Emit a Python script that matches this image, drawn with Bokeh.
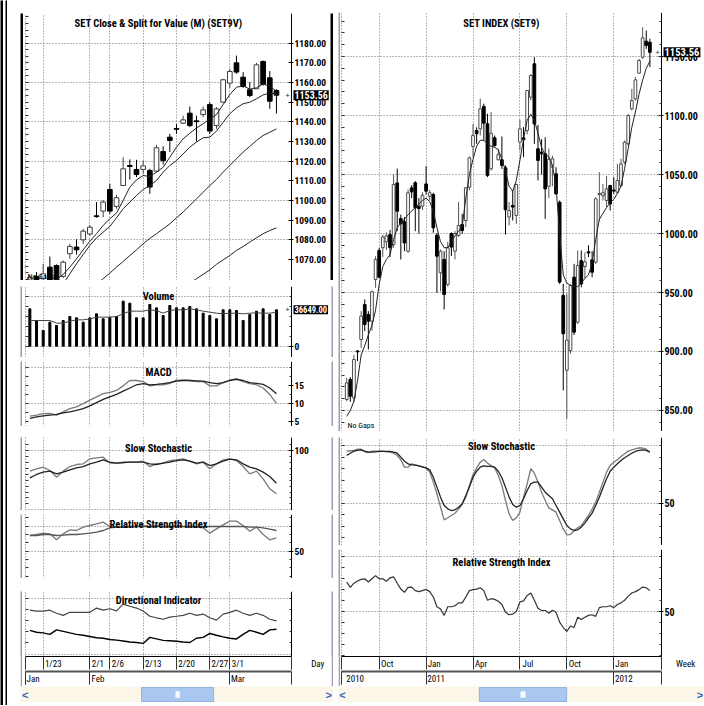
import numpy as np
from bokeh.plotting import figure
from bokeh.layouts import row, column
from bokeh.models import (Range1d, LinearAxis, FixedTicker, Grid, Label, BoxAnnotation,
                          PrintfTickFormatter, AllLabels)
from bokeh.embed import file_html
from bokeh.resources import INLINE

nan = float("nan")

# ---------------- daily data (left) ----------------
day_ticks = [2, 9, 12, 17, 22, 27, 30]
day_tick_labels = ["1/23", "2/1", "2/6", "2/13", "2/20", "2/27", "3/1"]
month_ticks = [9, 30]
month_labels = ["Jan", "Feb", "Mar"]

day_open = [1059.6, 1061.4, 1060.2, 1066.1, 1066.9, 1061.4, 1072.9, 1076.3, 1080.0, 1083.0,
            1092.2, 1094.6, 1105.6, 1097.0, 1107.6, 1117.8, 1115.8, 1115.8, 1115.3, 1114.9,
            1124.9, 1132.2, 1136.6, 1139.3, 1144.4, 1140.5, 1143.7, 1148.8, 1138.1, 1150.0,
            1159.7, 1170.0, 1162.7, 1156.3, 1156.8, 1170.7, 1162.4, 1155.9]
day_high = [1062.0, 1063.6, 1067.8, 1071.5, 1067.5, 1069.5, 1078.0, 1080.3, 1085.6, 1087.5,
            1099.2, 1100.3, 1108.5, 1102.9, 1122.0, 1120.9, 1120.7, 1120.3, 1116.1, 1128.3,
            1127.5, 1133.9, 1138.9, 1143.1, 1147.8, 1143.1, 1147.8, 1150.0, 1147.5, 1161.9,
            1167.0, 1173.7, 1165.3, 1160.2, 1170.0, 1171.2, 1165.8, 1156.6]
day_low = [1058.5, 1058.8, 1059.5, 1058.5, 1056.0, 1060.5, 1070.3, 1072.5, 1077.9, 1082.0,
           1091.2, 1091.5, 1093.2, 1095.8, 1107.6, 1110.7, 1111.9, 1113.6, 1103.4, 1114.4,
           1118.3, 1124.6, 1133.9, 1138.9, 1137.3, 1130.0, 1142.4, 1133.9, 1136.4, 1150.0,
           1157.3, 1164.4, 1157.3, 1152.5, 1156.8, 1158.5, 1146.6, 1144.2]
day_close = [1060.8, 1059.3, 1062.7, 1059.3, 1058.5, 1068.6, 1076.6, 1074.9, 1084.4, 1086.4,
             1091.8, 1099.2, 1094.6, 1101.4, 1116.1, 1117.3, 1113.2, 1117.6, 1106.8, 1126.8,
             1120.3, 1130.5, 1136.2, 1141.0, 1138.1, 1140.1, 1146.1, 1135.3, 1146.6, 1161.4,
             1165.6, 1165.3, 1158.0, 1153.4, 1169.0, 1159.0, 1150.5, 1153.56]
ma_fast = [nan, nan, nan, 1057.6, 1059.7, 1062.4, 1066.1, 1070.3, 1074.9, 1079.3,
           1083.1, 1087.3, 1090.7, 1093.6, 1100.0, 1106.8, 1110.5, 1112.7, 1112.2, 1114.4,
           1116.9, 1122.0, 1127.1, 1131.4, 1134.2, 1136.9, 1139.0, 1141.5, 1143.7, 1148.8,
           1153.9, 1157.6, 1158.3, 1156.6, 1157.3, 1159.3, 1158.0, 1155.6]
ma_mid = [nan, nan, nan, nan, nan, 1057.6, 1062.7, 1067.8, 1072.5, 1077.1,
          1081.0, 1083.9, 1086.8, 1091.2, 1095.8, 1099.2, 1102.5, 1105.6, 1107.6, 1110.2,
          1114.4, 1117.8, 1120.3, 1123.7, 1127.1, 1129.7, 1131.9, 1132.2, 1135.3, 1139.8,
          1144.1, 1147.1, 1149.2, 1150.0, 1151.7, 1153.7, 1154.6, 1154.2]
ma_slow = [nan, nan, nan, nan, nan, nan, nan, nan, nan, 1055.5,
           1057.6, 1060.2, 1063.1, 1066.1, 1069.0, 1072.0, 1074.9, 1078.0, 1080.7, 1083.1,
           1085.6, 1088.1, 1091.2, 1094.1, 1097.5, 1100.8, 1104.2, 1107.6, 1110.7, 1114.4,
           1117.8, 1121.2, 1124.6, 1127.5, 1130.5, 1133.1, 1134.7, 1136.4]
ma_long = [nan] * 24 + [1058.0, 1060.2, 1062.4, 1064.7, 1067.5, 1069.8, 1072.0, 1074.6,
                        1076.6, 1078.8, 1081.0, 1083.1, 1084.7, 1086.1]
volume = [37650, 25890, 15800, 24210, 20840, 25890, 29920, 28580, 24210, 28580,
          32610, 27570, 29250, 29920, 45390, 43370, 28580, 28580, 42020, 38660,
          30930, 41020, 38660, 38660, 40010, 37650, 33280, 30930, 27570, 36650,
          36650, 35970, 25890, 31940, 35300, 37650, 31940, 36649]
volume_avg = [25890, 25890, 25890, 25890, 23200, 23200, 25220, 26560, 26560, 27570,
              29250, 29250, 29250, 29920, 32610, 35300, 35300, 35300, 36650, 35970,
              33280, 35970, 36650, 36650, 37650, 36650, 35300, 34290, 33280, 32610,
              33280, 33280, 32610, 33280, 33620, 33280, 33280, 34290]
macd_line = [6.4, 6.7, 7.1, 7.2, 6.7, 7.6, 8.5, 9.0, 9.9, 10.9, 11.8, 12.7, 13.1, 13.6, 14.9,
             16.4, 16.4, 16.1, 14.9, 15.2, 15.2, 15.6, 16.5, 16.5, 16.4, 16.1, 16.1, 14.9,
             14.9, 15.8, 16.5, 16.9, 16.1, 15.5, 15.2, 14.3, 12.5, 10.0]
macd_signal = [5.8, 6.2, 6.5, 6.7, 6.9, 7.3, 7.6, 8.0, 8.5, 9.3, 10.2, 11.1, 11.8, 12.5, 13.4,
               14.3, 15.2, 15.5, 15.2, 15.3, 15.5, 15.8, 16.2, 16.4, 16.4, 16.3, 16.2, 15.8,
               15.5, 15.8, 16.4, 16.7, 16.4, 15.8, 15.6, 15.3, 14.3, 12.7]
stoch_k_day = [65.2, 69.1, 71.9, 66.3, 55.1, 65.2, 73.0, 76.4, 77.5, 86.0, 87.6, 88.8, 78.7,
               78.7, 79.8, 80.3, 80.3, 82.0, 73.0, 77.5, 78.7, 83.1, 84.3, 86.0, 82.0, 77.5,
               80.3, 69.1, 77.5, 84.3, 86.0, 83.1, 73.0, 60.7, 65.2, 52.2, 35.4, 27.0]
stoch_d_day = [53.9, 59.6, 63.5, 65.2, 60.7, 63.5, 67.4, 70.8, 73.0, 77.5, 80.3, 84.3, 80.3,
               78.7, 79.8, 80.3, 80.3, 80.3, 77.5, 76.4, 78.7, 80.3, 83.1, 84.3, 82.0, 78.7,
               80.3, 74.7, 77.5, 82.0, 85.4, 84.3, 77.5, 71.9, 69.1, 63.5, 56.2, 44.9]
rsi_day = [68.8, 70.0, 71.6, 70.8, 63.6, 70.8, 75.6, 74.8, 78.8, 80.8, 82.8, 84.8, 79.6, 78.8,
           78.8, 79.6, 79.6, 80.8, 78.8, 80.8, 79.6, 78.8, 80.8, 79.6, 78.8, 78.8, 78.0, 71.6,
           76.8, 81.6, 86.0, 86.0, 80.8, 74.0, 78.8, 70.0, 63.6, 66.0]
rsi_day_avg = [68.8, 68.8, 70.0, 70.0, 68.8, 69.2, 70.0, 70.0, 70.8, 71.6, 72.8, 74.8, 78.0,
               78.8, 78.8, 79.2, 79.6, 79.6, 79.6, 79.6, 79.6, 79.6, 79.6, 79.6, 79.6, 79.6,
               79.6, 79.6, 79.6, 79.6, 79.6, 79.6, 79.6, 78.8, 78.8, 78.0, 76.4, 74.8]
di_plus = [39.2, 38.4, 38.4, 39.2, 36.5, 34.6, 37.3, 37.3, 37.3, 37.3, 41.1, 39.2, 40.5, 38.6,
           44.6, 42.7, 41.1, 38.4, 33.8, 32.4, 31.1, 33.0, 33.8, 34.6, 36.5, 34.6, 35.7, 32.4,
           30.3, 35.7, 37.3, 39.2, 36.5, 34.6, 36.5, 34.6, 31.1, 29.7]
di_minus = [21.1, 19.5, 18.9, 17.6, 21.6, 20.3, 18.9, 17.6, 16.8, 15.7, 14.6, 14.1, 13.0, 12.4,
            11.6, 10.8, 10.3, 9.5, 14.9, 13.5, 12.2, 11.9, 11.4, 10.8, 10.3, 14.1, 14.9, 18.4,
            16.8, 15.4, 14.1, 13.5, 17.6, 21.1, 19.5, 17.6, 21.6, 22.2]

# ---------------- weekly data (right) ----------------
quarter_ticks = [9, 22, 35, 48, 61, 74]
quarter_labels = ["Oct", "Jan", "Apr", "Jul", "Oct", "Jan"]
year_ticks = [22, 74]
year_labels = ["2010", "2011", "2012"]

wk_open = [859.3, 876.3, 860.7, 900.5, 910.2, 939.8, 931.4, 925.7, 961.0, 985.6,
           988.0, 993.0, 999.0, 990.7, 1042.9, 1012.7, 1010.0, 985.0, 1038.7, 1043.0,
           1023.0, 1023.2, 1042.0, 1031.6, 1033.0, 998.6, 966.7, 978.0, 956.8, 1000.0,
           985.0, 998.4, 1007.7, 1011.0, 1039.3, 1073.8, 1087.3, 1088.7, 1107.7, 1093.0,
           1054.8, 1081.1, 1062.5, 1062.5, 1055.7, 1013.9, 1023.8, 1015.3, 1077.4, 1081.1,
           1087.3, 1115.5, 1143.8, 1071.8, 1069.0, 1067.5, 1040.0, 1056.2, 1050.6, 1026.5,
           947.5, 884.2, 900.8, 963.0, 924.8, 977.0, 972.0, 984.5, 977.7, 975.7,
           1033.0, 1032.0, 1028.0, 1040.7, 1036.8, 1035.0, 1040.7, 1060.4, 1076.0, 1105.6,
           1114.1, 1135.9, 1149.4, 1163.0, 1162.1]
wk_high = [877.7, 878.2, 896.9, 901.0, 934.2, 944.1, 934.2, 951.7, 980.8, 987.9,
           999.0, 1001.0, 1003.0, 1050.0, 1055.0, 1016.0, 1014.0, 1037.3, 1041.0, 1044.4,
           1030.0, 1035.0, 1057.0, 1037.0, 1034.5, 1000.6, 986.4, 985.0, 993.0, 1001.0,
           1002.0, 1026.6, 1016.7, 1039.3, 1065.3, 1093.0, 1090.0, 1114.2, 1110.0, 1101.5,
           1102.9, 1083.0, 1071.8, 1082.2, 1057.7, 1026.6, 1036.5, 1042.1, 1096.4, 1090.2,
           1121.2, 1135.0, 1149.4, 1092.0, 1080.0, 1081.6, 1072.0, 1066.0, 1056.2, 1028.0,
           957.3, 948.9, 957.3, 974.3, 985.6, 985.6, 984.0, 990.0, 985.0, 1030.8,
           1052.0, 1042.1, 1048.8, 1041.2, 1047.7, 1059.0, 1063.3, 1078.8, 1101.4, 1122.6,
           1132.5, 1148.0, 1174.9, 1172.0, 1165.0]
wk_low = [857.9, 857.3, 857.0, 892.0, 903.0, 917.2, 901.7, 917.8, 954.0, 962.4,
          980.0, 986.0, 980.0, 987.9, 1002.0, 978.0, 985.0, 983.6, 1030.0, 1002.0,
          1000.0, 1020.0, 1033.0, 1028.0, 1000.6, 949.7, 951.0, 935.6, 955.0, 981.0,
          978.0, 997.0, 999.8, 1005.4, 1036.5, 1064.7, 1076.0, 1083.1, 1078.9, 1047.8,
          1053.4, 1073.0, 1061.9, 1054.8, 999.2, 1006.8, 1011.0, 1008.2, 1070.4, 1064.7,
          1084.0, 1113.0, 1076.0, 1045.0, 1050.0, 1012.4, 1030.0, 1040.0, 1032.7, 957.4,
          867.0, 843.0, 898.0, 914.0, 923.4, 954.5, 962.0, 980.0, 963.0, 974.3,
          1011.0, 1028.0, 1022.3, 1019.5, 1033.7, 1033.6, 1039.3, 1059.0, 1074.6, 1104.2,
          1112.7, 1135.3, 1148.0, 1156.5, 1141.0]
wk_close = [873.4, 862.1, 893.2, 899.7, 930.0, 922.9, 925.7, 950.6, 978.0, 963.0,
            997.0, 998.0, 988.0, 1041.5, 1018.9, 1008.2, 992.0, 1034.5, 1035.3, 1021.8,
            1021.2, 1032.5, 1035.9, 1034.5, 1004.8, 980.8, 985.0, 948.3, 987.9, 988.5,
            1000.0, 1006.8, 1002.6, 1038.7, 1064.2, 1083.1, 1084.5, 1105.7, 1093.5, 1049.2,
            1085.0, 1074.6, 1067.0, 1057.7, 1020.1, 1019.5, 1022.4, 1041.6, 1088.7, 1079.4,
            1121.2, 1133.9, 1092.9, 1061.9, 1067.5, 1037.8, 1063.0, 1063.3, 1033.6, 958.8,
            915.0, 909.6, 955.9, 916.4, 972.9, 957.3, 976.0, 983.5, 967.2, 1029.4,
            1034.0, 1034.5, 1037.8, 1025.0, 1036.0, 1045.0, 1059.0, 1077.4, 1100.0, 1112.7,
            1130.2, 1146.6, 1165.8, 1159.3, 1153.56]
wk_ma = [845, 850, 858, 875, 897, 905, 914, 922, 935, 957, 972, 978, 982, 995, 1005, 1009,
         1012, 1016, 1019, 1022, 1025, 1028, 1030, 1027, 1019, 1005, 993, 988, 988, 993,
         998, 1002, 1006, 1030, 1050, 1063, 1074, 1079, 1079, 1076, 1074, 1073, 1071, 1063,
         1053, 1040, 1036, 1045, 1062, 1080, 1096, 1101, 1096, 1085, 1073, 1067, 1065, 1058,
         1040, 1000, 965, 958, 956, 955, 955, 958, 962, 965, 975, 995, 1012, 1017, 1022,
         1026, 1029, 1034, 1040, 1055, 1072, 1090, 1103, 1118, 1130, 1140, 1146]
stoch_k_wk = [95.1, 95.4, 95.7, 96.8, 96.8, 94.5, 93.9, 95.1, 95.1, 95.1, 95.1, 94.5, 94.2,
              93.3, 91.3, 87.6, 81.2, 81.2, 84.1, 83.2, 82.4, 81.2, 80.3, 76.9, 68.2, 58.1,
              46.5, 35.5, 37.3, 39.3, 41.3, 44.8, 48.8, 55.2, 65.3, 74.8, 80.6, 85.5, 87.9,
              84.7, 82.7, 80.6, 74.0, 65.3, 52.3, 40.7, 35.0, 37.3, 42.2, 55.2, 66.8, 79.8,
              76.0, 68.2, 59.5, 52.3, 45.9, 44.2, 42.2, 35.0, 27.7, 22.8, 22.8, 26.3, 28.6,
              30.6, 35.0, 39.3, 44.8, 50.9, 59.5, 68.2, 76.9, 82.7, 85.5, 87.6, 90.5, 92.8,
              95.1, 96.2, 97.1, 98.0, 97.7, 96.8, 94.2]
stoch_d_wk = [91.3, 93.3, 95.1, 95.7, 96.2, 95.1, 94.2, 94.2, 94.5, 94.8, 94.8, 94.8, 94.8,
              94.2, 93.3, 89.9, 86.4, 84.1, 83.2, 82.9, 82.4, 81.5, 80.6, 78.9, 72.5, 63.9,
              55.2, 48.0, 45.1, 43.6, 44.2, 46.5, 49.4, 56.6, 63.9, 72.5, 77.7, 81.2, 82.4,
              81.8, 81.8, 81.2, 77.7, 72.0, 63.9, 55.2, 48.8, 46.5, 48.0, 53.8, 61.0, 66.8,
              68.2, 68.2, 63.9, 59.5, 56.6, 53.8, 48.0, 42.2, 36.4, 30.6, 27.7, 26.3, 26.9,
              29.2, 32.7, 37.3, 41.3, 48.0, 55.2, 63.3, 71.1, 77.7, 81.2, 84.1, 87.0, 89.3,
              91.3, 93.3, 94.8, 95.7, 96.2, 95.7, 94.2]
rsi_wk = [76.7, 71.8, 75.6, 77.6, 79.1, 79.6, 76.7, 79.6, 82.5, 79.6, 79.6, 77.3, 80.5, 81.4,
          75.6, 70.3, 67.4, 71.8, 72.1, 68.9, 68.0, 68.9, 70.0, 68.0, 63.1, 54.3, 52.3, 46.5,
          54.3, 54.3, 55.2, 57.8, 57.8, 63.1, 68.9, 69.8, 70.3, 71.5, 68.9, 60.2, 61.6, 61.0,
          59.3, 56.4, 49.4, 47.1, 47.7, 50.0, 58.7, 59.6, 64.5, 66.8, 60.2, 52.9, 50.9, 50.9,
          48.5, 51.2, 49.4, 40.4, 35.5, 32.0, 36.9, 35.5, 44.8, 42.7, 44.8, 46.5, 47.1, 45.6,
          53.5, 54.3, 54.3, 55.2, 53.5, 56.4, 57.8, 60.2, 63.9, 66.8, 68.0, 69.8, 72.1, 71.5,
          68.9]

last_price = 1153.56
last_volume = 36649.00

# ---------------- styling helpers ----------------
FONT = "Roboto Condensed, Liberation Sans, sans-serif"
GRAY = "#a597ad"
GRIDC = "#707070"
EN = "\u2002"     # en space (0.5em), used to shift centred tick labels to the right
THIN = "\u2009"


def pad(text, shift_px, size_px=9.0):
    """left-pad a centred tick label so that it starts shift_px right of its tick"""
    w = 0.5 * size_px * len(text)
    n = max(0, int(round((2 * shift_px + w) / (0.5 * size_px))))
    return EN * n + text


def strip(w, h, color):
    f = figure(width=w, height=h, output_backend="svg", toolbar_location=None,
               x_range=Range1d(0, 1), y_range=Range1d(0, 1),
               x_axis_location=None, y_axis_location=None, min_border=0,
               background_fill_color=color, border_fill_color=color, outline_line_color=None)
    f.grid.visible = False
    return f


def panel(w, h, xr, yr, mbl, mbb=0):
    p = figure(width=w, height=h, x_range=xr, y_range=yr, output_backend="svg",
               toolbar_location=None, x_axis_location=None, y_axis_location=None,
               min_border_left=mbl, min_border_right=0, min_border_top=0,
               min_border_bottom=mbb, background_fill_color="white",
               border_fill_color="white", outline_line_color=None)
    p.grid.visible = False
    return p


def grids(p, xt, yt, xb):
    p.add_layout(Grid(dimension=0, ticker=FixedTicker(ticks=xt), grid_line_color=GRIDC,
                      grid_line_dash="1 2", grid_line_width=1))
    kw = dict(dimension=1, ticker=FixedTicker(ticks=yt), grid_line_color=GRIDC,
              grid_line_dash="1 2", grid_line_width=1)
    try:
        g = Grid(cross_bounds=xb, **kw)
        p.add_layout(g)
    except Exception:
        yt = np.asarray(yt, float)
        p.segment(x0=np.full(len(yt), xb[0]), x1=np.full(len(yt), xb[1]), y0=yt, y1=yt,
                  line_color=GRIDC, line_dash="1 2", line_width=1)


def raxis(p, xpos, ticks, minor, fmt=None, size="9.5px"):
    ax = LinearAxis(ticker=FixedTicker(ticks=ticks, minor_ticks=minor), fixed_location=xpos)
    ax.axis_line_color = "black"
    ax.major_tick_in = 3
    ax.major_tick_out = 2
    ax.minor_tick_in = 2
    ax.minor_tick_out = 0
    ax.major_tick_line_color = "black"
    ax.minor_tick_line_color = "#333333"
    ax.major_label_standoff = 1
    ax.major_label_text_font = FONT
    ax.major_label_text_font_style = "bold"
    ax.major_label_text_font_size = size
    ax.major_label_text_color = "black"
    if fmt:
        ax.formatter = PrintfTickFormatter(format=fmt)
    p.add_layout(ax, "right")


def laxis(p, marks):
    ax = LinearAxis(ticker=FixedTicker(ticks=[], minor_ticks=marks))
    ax.axis_line_color = "#666666"
    ax.axis_line_dash = "1 2"
    ax.major_tick_in = 0
    ax.major_tick_out = 0
    ax.minor_tick_in = 3
    ax.minor_tick_out = 0
    ax.minor_tick_line_color = "#333333"
    ax.major_label_standoff = 0
    p.add_layout(ax, "left")


def ypx(yr, fh, px):
    return yr.end - px / fh * (yr.end - yr.start)


def title(p, text, xc, yr, fh, px):
    p.add_layout(Label(x=xc, y=ypx(yr, fh, px), text=text,
                       text_align="center", text_baseline="middle", text_font=FONT,
                       text_font_style="bold", text_font_size="10.5px", text_color="black"))


def value_box(p, xpos, y, text, size):
    p.add_layout(Label(x=xpos, y=y, x_offset=-4, text="+", text_align="center",
                       text_baseline="middle", text_font_size="8px", text_color="#333333"))
    p.add_layout(Label(x=xpos, y=y, x_offset=2, text=text, text_align="left",
                       text_baseline="middle", text_font=FONT, text_font_style="bold",
                       text_font_size=size, text_color="white",
                       background_fill_color="black", padding=1))


def date_axes(p, bounds, edges, t1, l1, t2, l2):
    for ticks, labels, lw, lc in ((t1, l1, 1, "black"), (t2, l2, 2, "#555555")):
        ax = LinearAxis(ticker=FixedTicker(ticks=ticks, minor_ticks=edges),
                        major_label_overrides={t: s for t, s in zip(ticks, labels)},
                        bounds=bounds, major_label_policy=AllLabels())
        ax.axis_line_color = lc
        ax.axis_line_width = lw
        ax.major_tick_out = 13
        ax.major_tick_in = 0
        ax.minor_tick_out = 13
        ax.minor_tick_in = 0
        ax.major_tick_line_color = "#333333"
        ax.minor_tick_line_color = "#333333"
        ax.major_label_standoff = -11
        ax.major_label_text_font = FONT
        ax.major_label_text_font_size = "9px"
        ax.major_label_text_color = "black"
        p.add_layout(ax, "below")


def candles(p, o, h, l, c, width, up_line, wick_up):
    o, h, l, c = (np.asarray(v, float) for v in (o, h, l, c))
    x = np.arange(len(o), dtype=float)
    up = c >= o
    dn = ~up
    top = np.maximum(o, c)
    bot = np.minimum(o, c)
    p.segment(x0=x[up], y0=l[up], x1=x[up], y1=h[up], line_color=wick_up, line_width=1)
    p.segment(x0=x[dn], y0=l[dn], x1=x[dn], y1=h[dn], line_color="black", line_width=1)
    p.vbar(x=x[up], width=width, top=top[up], bottom=bot[up], fill_color="white",
           line_color=up_line, line_width=1)
    p.vbar(x=x[dn], width=width, top=top[dn], bottom=bot[dn], fill_color="black",
           line_color="black", line_width=1)


def scrollbar(w, t0, t1, arrows):
    f = figure(width=w, height=16, x_range=Range1d(0, 1), y_range=Range1d(0, 1),
               output_backend="svg", toolbar_location=None, x_axis_location=None,
               y_axis_location=None, min_border=0, background_fill_color="#fbf6e8",
               border_fill_color="#fbf6e8", outline_line_color=None)
    f.grid.visible = False
    f.add_layout(BoxAnnotation(left=t0, right=t1, bottom=0.06, top=0.94, fill_color="#a9c8ef",
                               fill_alpha=1.0, line_color="#8fb2df", line_alpha=1.0))
    cc = (t0 + t1) / 2
    f.add_layout(BoxAnnotation(left=cc - 0.007, right=cc + 0.007, bottom=0.3, top=0.7,
                               fill_color="white", fill_alpha=0.9, line_color=None))
    for xa, t in arrows:
        f.add_layout(Label(x=xa, y=0.5, text=t, text_align="center", text_baseline="middle",
                           text_color="#2f63c0", text_font_size="11px", text_font_style="bold"))
    return f


# ---------------- ranges ----------------
# left: 6.664 px per trading day, day 0 at x=29.4; axis line at x=291
xL_ax = 39.26
xL = Range1d(-0.656, 45.26)      # frames 25..331
xLp = Range1d(-0.656, 45.11)     # price frame 25..330
# right: 3.609 px per week, week 0 at x=346.2; axis line at x=661
xR_ax = 87.23
xR = Range1d(-1.44, 98.86)       # frames 341..703
xL0 = xL.start + 0.02
xR0 = xR.start + 0.02
cL = (xL.start + xL_ax) / 2
cR = (xR.start + xR_ax) / 2
bL = (xL.start, xL_ax + 0.001)
bR = (xR.start, xR_ax + 0.001)
ix = np.arange(len(day_open), dtype=float)
iw = np.arange(len(wk_open), dtype=float)
LINE_D = "#222222"
LINE_G = "#7a7a7a"

# ---- left price ----
yL = Range1d(1059.3, 1195.1)
pL = panel(307, 267, xLp, yL, 2)
grids(pL, day_ticks, [1080, 1100, 1120, 1140, 1160, 1180], bL)
raxis(pL, xL_ax, list(range(1070, 1190, 10)), [], fmt="%.2f")
laxis(pL, [1060 + k * 10 / 3 for k in range(42)])
candles(pL, day_open, day_high, day_low, day_close, 0.7, "#3c3c3c", "#444444")
for ma in (ma_fast, ma_mid, ma_slow, ma_long):
    pL.line(ix, np.array(ma, float), line_color=LINE_D, line_width=1)
title(pL, "SET Close & Split for Value (M) (SET9V)", cL, yL, 267, 10.3)
pL.add_layout(Label(x=xLp.start, x_offset=2, y=ypx(yL, 267, 263), text="No Gaps",
                    text_align="left", text_baseline="middle", text_font=FONT,
                    text_font_size="8px", text_color="black"))
value_box(pL, xL_ax, last_price, "1153.56", "10px")

# ---- volume ----
yV = Range1d(-11431, 60180)
pV = panel(309, 71, xL, yV, 3)
grids(pV, day_ticks, [0, 50000], bL)
raxis(pV, xL_ax, [0], [10000, 20000, 30000, 40000, 50000])
laxis(pV, [0, 10000, 20000, 30000, 40000, 50000])
pV.vbar(x=ix, width=0.3, top=np.array(volume, float), bottom=0, fill_color="black",
        line_color="black")
pV.line(ix, np.array(volume_avg, float), line_color="#444444", line_width=1)
title(pV, "Volume", cL, yV, 71, 10)
value_box(pV, xL_ax, last_volume, "36649.00", "8.5px")

# ---- MACD ----
yM = Range1d(3.5, 21.73)
pM = panel(309, 65, xL, yM, 3)
grids(pM, day_ticks, [10, 20], bL)
raxis(pM, xL_ax, [5, 10, 15], [7.5, 12.5, 17.5, 20])
laxis(pM, [5, 7.5, 10, 12.5, 15, 17.5, 20])
pM.line(ix, macd_line, line_color=LINE_G, line_width=1.3)
pM.line(ix, macd_signal, line_color=LINE_D, line_width=1.3)
title(pM, "MACD", cL, yM, 65, 10.7)

# ---- slow stochastic (day) ----
yS = Range1d(-1.1, 121.9)
pS = panel(309, 73, xL, yS, 3)
grids(pS, day_ticks, [0, 100], bL)
raxis(pS, xL_ax, [100], [10, 20, 30, 40, 50, 60, 70, 80, 90, 110])
laxis(pS, [10, 20, 30, 40, 50, 60, 70, 80, 90, 100, 110])
pS.line(ix, stoch_k_day, line_color=LINE_G, line_width=1.3)
pS.line(ix, stoch_d_day, line_color=LINE_D, line_width=1.3)
title(pS, "Slow Stochastic", cL, yS, 73, 11)

# ---- RSI (day) ----
yRd = Range1d(17.2, 94.0)
pR = panel(309, 64, xL, yRd, 3)
grids(pR, day_ticks, [50, 80], bL)
raxis(pR, xL_ax, [50], [20, 30, 40, 60, 70, 80, 90])
laxis(pR, [20, 30, 40, 50, 60, 70, 80, 90])
pR.line(ix, rsi_day, line_color=LINE_G, line_width=1.3)
pR.line(ix, rsi_day_avg, line_color="#555555", line_width=1.3)
title(pR, "Relative Strength Index", cL, yRd, 64, 10)

# ---- directional indicator ----
yD = Range1d(-2.2, 55.9)
pD = panel(309, 95, xL, yD, 3, mbb=26)
grids(pD, day_ticks, [0, 50], bL)
raxis(pD, xL_ax, [], [10, 20, 30, 40, 50])
laxis(pD, [10, 20, 30, 40, 50])
pD.line(ix, di_plus, line_color="#444444", line_width=1.2)
pD.line(ix, di_minus, line_color="black", line_width=1.4)
title(pD, "Directional Indicator", cL, yD, 69, 9.7)
date_axes(pD, bL, [xL0, xL_ax],
          day_ticks + [xL_ax], [pad(s, 2) for s in day_tick_labels] + [pad("Day", 22)],
          [xL0] + month_ticks, [EN + month_labels[0]] + [pad(s, 2) for s in month_labels[1:]])

# ---- right price ----
yP = Range1d(832.2, 1187.3)
pP = panel(363, 419, xR, yP, 1)
grids(pP, quarter_ticks, [850, 900, 950, 1000, 1050, 1100, 1150], bR)
raxis(pP, xR_ax, [850, 900, 950, 1000, 1050, 1100, 1150], list(range(840, 1190, 10)),
      fmt="%.2f", size="10px")
laxis(pP, list(range(840, 1190, 10)))
candles(pP, wk_open, wk_high, wk_low, wk_close, 0.75, "#4a4a4a", "#555555")
pP.line(iw, np.array(wk_ma, float), line_color=LINE_D, line_width=1)
title(pP, "SET INDEX (SET9)", cR, yP, 419, 10.7)
pP.add_layout(Label(x=xR.start, x_offset=6, y=ypx(yP, 419, 413), text="No Gaps",
                    text_align="left", text_baseline="middle", text_font=FONT,
                    text_font_size="8px", text_color="black"))
value_box(pP, xR_ax, last_price, "1153.56", "10.5px")

# ---- right slow stochastic ----
ySw = Range1d(13.3, 106.9)
pSw = panel(363, 108, xR, ySw, 1)
grids(pSw, quarter_ticks, [50, 100], bR)
raxis(pSw, xR_ax, [50], [20, 30, 40, 60, 70, 80, 90, 100], size="10px")
laxis(pSw, [20, 30, 40, 50, 60, 70, 80, 90, 100])
pSw.line(iw, stoch_k_wk, line_color=LINE_G, line_width=1.3)
pSw.line(iw, stoch_d_wk, line_color=LINE_D, line_width=1.3)
title(pSw, "Slow Stochastic", cR, ySw, 108, 9)

# ---- right RSI ----
yRw = Range1d(9.3, 106.1)
pRw = panel(363, 137, xR, yRw, 1, mbb=26)
grids(pRw, quarter_ticks, [50, 100], bR)
raxis(pRw, xR_ax, [50], [10, 20, 30, 40, 60, 70, 80, 90, 100], size="10px")
laxis(pRw, [10, 20, 30, 40, 50, 60, 70, 80, 90, 100])
pRw.line(iw, rsi_wk, line_color="#333333", line_width=1.2)
title(pRw, "Relative Strength Index", cR, yRw, 111, 13)
date_axes(pRw, bR, [xR0, xR_ax],
          quarter_ticks + [xR_ax], [pad(s, 2) for s in quarter_labels] + [pad("Week", 18)],
          [xR0] + year_ticks,
          [EN + THIN + year_labels[0]] + [pad(s, 2) for s in year_labels[1:]])

# ---------------- layout ----------------
def lrow(fig, h, color, vw):
    return row(strip(12, h, "white"), strip(vw, h, color), fig, strip(vw, h, color),
               strip(3, h, "white"))


def lh(h, color):
    return row(strip(12, h, "white"), strip(313, h, color), strip(3, h, "white"))


def rrow(fig, h):
    return row(strip(2, h, "white"), strip(2, h, GRAY), fig)


def rh(h, color):
    return row(strip(2, h, "white"), strip(365, h, color))


left = column(
    lh(3, "black"), lrow(pL, 267, "black", 3), lh(3, "black"),
    strip(328, 1, "white"),
    lh(2, GRAY), lrow(pV, 71, GRAY, 2), lh(2, GRAY),
    lh(2, GRAY), lrow(pM, 65, GRAY, 2), lh(2, GRAY),
    strip(328, 7, "white"),
    lh(2, GRAY), lrow(pS, 73, GRAY, 2), lh(2, GRAY),
    lh(2, GRAY), lrow(pR, 64, GRAY, 2), lh(2, GRAY),
    strip(328, 9, "white"),
    lh(2, GRAY), lrow(pD, 95, GRAY, 2),
    row(strip(12, 16, "white"),
        scrollbar(313, 0.387, 0.617, [(0.015, "<"), (0.985, ">")]),
        strip(3, 16, "white")),
    strip(328, 3, "white"),
)

right = column(
    rh(2, GRAY), rrow(pP, 419), rh(2, GRAY),
    strip(367, 2, "white"),
    rh(2, GRAY), rrow(pSw, 108), rh(2, GRAY),
    rh(2, GRAY), rrow(pRw, 137),
    row(strip(2, 16, "white"), scrollbar(365, 0.386, 0.625, [(0.011, "<"), (0.99, ">")])),
    strip(367, 3, "white"),
)

top_block = column(
    row(strip(21, 6, "white"), strip(2, 6, "black"), strip(335, 6, "white"),
        strip(2, 6, "black"), strip(335, 6, "white")),
    strip(695, 2, "black"),
    strip(695, 2, "white"),
)

edge = row(strip(3, 705, "black"), strip(2, 705, "white"), strip(2, 705, "black"),
           strip(1, 705, "white"))

root = row(edge, column(top_block, row(left, right)))
open("out.html", "w").write(file_html(root, INLINE))
